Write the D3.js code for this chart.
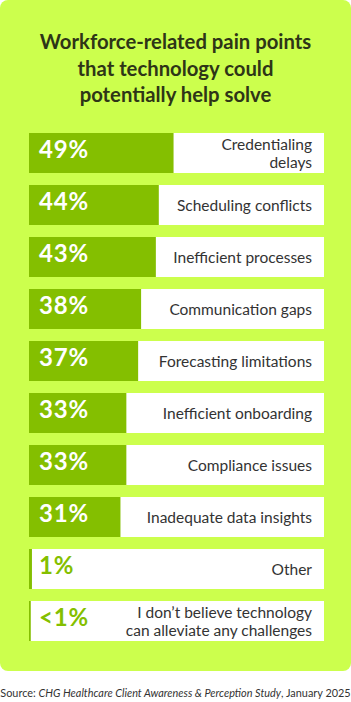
<!DOCTYPE html>
<html>
<head>
<meta charset="utf-8">
<script src="https://cdn.jsdelivr.net/npm/d3@7"></script>
<style>
  body { margin: 0; background: #fff; }
  svg { display: block; font-family: Lato, "Noto Sans", sans-serif; }
</style>
</head>
<body>
<svg id="chart"></svg>
<script>
var w = 351;
var h = 702;

// data
var categories = [
  ["Credentialing", "delays"],
  ["Scheduling conflicts"],
  ["Inefficient processes"],
  ["Communication gaps"],
  ["Forecasting limitations"],
  ["Inefficient onboarding"],
  ["Compliance issues"],
  ["Inadequate data insights"],
  ["Other"],
  ["I don\u2019t believe technology", "can alleviate any challenges"]
];
var values = [49, 44, 43, 38, 37, 33, 33, 31, 1, 0.6];
var value_labels = ["49%", "44%", "43%", "38%", "37%", "33%", "33%", "31%", "1%", "<1%"];
var title_lines = ["Workforce-related pain points", "that technology could", "potentially help solve"];
var source_pre = "Source: ";
var source_it = "CHG Healthcare Client Awareness & Perception Study";
var source_post = ", January 2025";

var lime = "#ccff4d";
var bar_green = "#84bf00";
var text_dark = "#333333";

var svg = d3.select("#chart").attr("width", w).attr("height", h);

svg.append("rect")
   .attr("x", 0).attr("y", 0)
   .attr("width", 351).attr("height", 671)
   .attr("rx", 8).attr("ry", 8)
   .attr("fill", lime);

svg.append("g").selectAll("text")
   .data(title_lines)
   .join("text")
   .attr("x", 175.5)
   .attr("y", (d, i) => 49 + i * 26.5)
   .attr("text-anchor", "middle")
   .attr("font-size", 20.3)
   .attr("font-weight", 700)
   .attr("fill", "#2e3517")
   .text(d => d);

var idx = d3.range(values.length);
var y = d3.scaleBand().domain(idx).range([133, 133 + 10 * 52 - 12]).paddingInner(12 / 52);
var x = d3.scaleLinear().domain([0, 100]).range([29, 324]);

var rows = svg.append("g").selectAll("g")
   .data(idx)
   .join("g")
   .attr("transform", i => "translate(0," + y(i) + ")");

rows.append("rect")
   .attr("x", x(0))
   .attr("width", x(100) - x(0))
   .attr("height", y.bandwidth())
   .attr("fill", "#fff");

rows.append("rect")
   .attr("x", x(0))
   .attr("width", i => x(values[i]) - x(0))
   .attr("height", y.bandwidth())
   .attr("fill", bar_green);

rows.append("text")
   .attr("x", 39)
   .attr("y", 25)
   .attr("font-size", 24)
   .attr("font-weight", 700)
   .attr("letter-spacing", 0.8)
   .attr("fill", i => values[i] < 10 ? bar_green : "#fff")
   .text(i => value_labels[i]);

rows.append("text")
   .attr("text-anchor", "end")
   .attr("font-size", 15.5)
   .attr("fill", text_dark)
   .each(function(i) {
       var lines = categories[i];
       var t = d3.select(this);
       var lh = 17.5;
       var y0 = y.bandwidth() / 2 + 6 - (lines.length - 1) * lh / 2;
       lines.forEach(function(l, k) {
           t.append("tspan").attr("x", 312).attr("y", y0 + k * lh).text(l);
       });
   });

var src = svg.append("text")
   .attr("x", 175.5)
   .attr("y", 697)
   .attr("text-anchor", "middle")
   .attr("font-size", 10.9)
   .attr("fill", text_dark);
src.append("tspan").text(source_pre);
src.append("tspan").attr("font-style", "italic").text(source_it);
src.append("tspan").text(source_post);
</script>
</body>
</html>
